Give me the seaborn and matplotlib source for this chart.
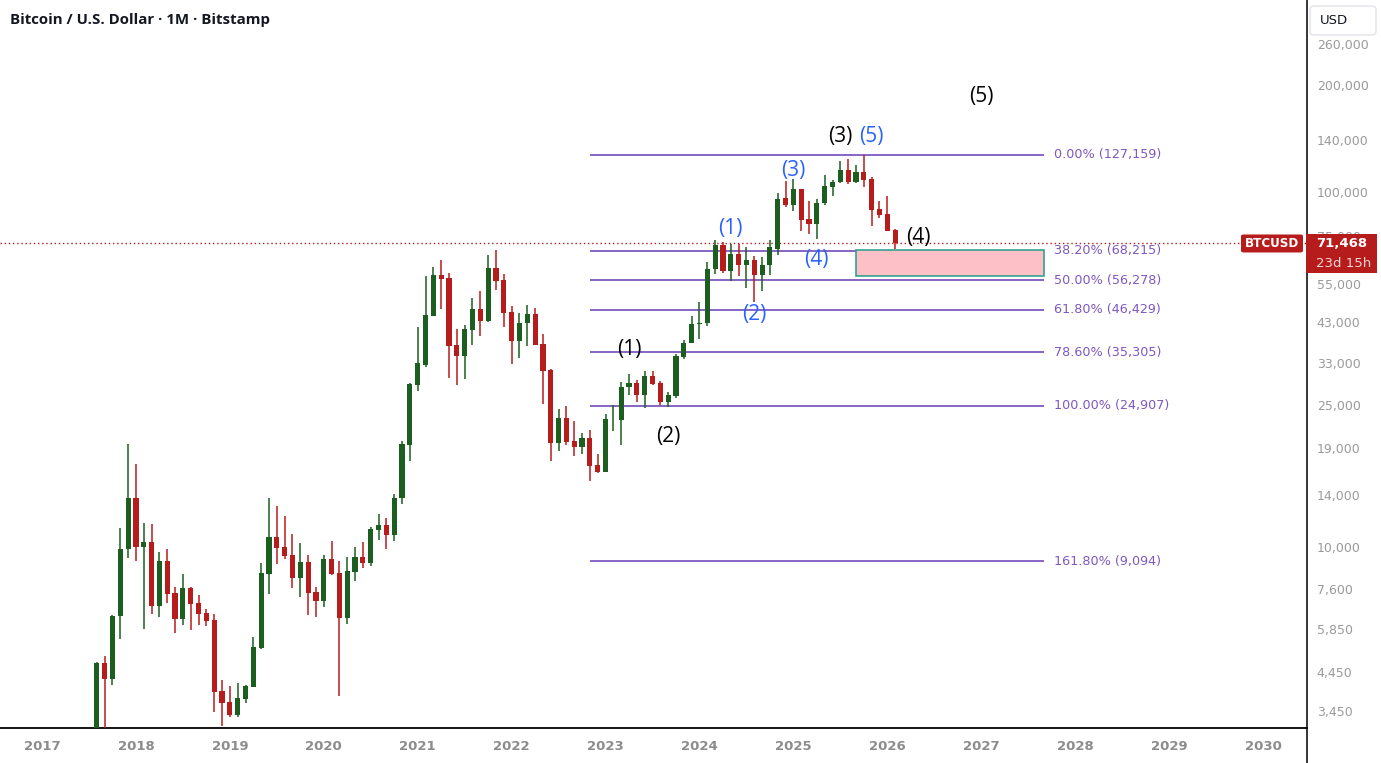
# Bitcoin / USD monthly candles (Bitstamp) with Elliott wave counts and a Fibonacci retracement

import numpy as np
import pandas as pd
import matplotlib
matplotlib.use("Agg")
import matplotlib.pyplot as plt
from matplotlib.patches import Rectangle, FancyBboxPatch
from matplotlib.lines import Line2D
from matplotlib.ticker import FixedLocator, FuncFormatter
import seaborn as sns

# --- data ---------------------------------------------------------------------

months = pd.period_range("2017-08", "2026-02", freq="M")

opens = [2870, 4690, 4250, 6380, 9850, 13720, 10000, 10300, 6820, 9110, 7400, 6270,
         7650, 6940, 6500, 6210, 3920, 3640, 3363, 3730, 4030, 5190, 8380, 10650,
         9980, 9470, 8180, 9050, 7450, 7040, 9230, 8430, 6310, 8500, 9350, 9020,
         11170, 11510, 10780, 13720, 19380, 28610, 32580, 44760, 58200, 57100, 36900, 34550,
         40870, 46720, 43340, 60960, 56440, 45950, 38070, 42660, 45300, 37200, 31460, 19580,
         23050, 19840, 19070, 20220, 16990, 16230, 22870, 22790, 28100, 28930, 26800, 30320,
         28930, 25600, 26560, 34330, 37480, 42280, 42580, 60500, 70790, 59880, 66900, 62000,
         64210, 58140, 62230, 68900, 96000, 91500, 101600, 83700, 81000, 92900, 103400, 106400,
         115400, 106600, 113500, 108800, 89200, 86300, 78000]
highs = [4740, 4920, 6400, 11290, 19460, 17100, 11660, 11590, 9660, 9850, 7710, 8380,
         7710, 7310, 6680, 6460, 4220, 4060, 4130, 4090, 5570, 8990, 13720, 13020,
         12200, 10860, 10240, 9470, 7710, 9470, 10370, 9110, 9350, 9980, 10320, 11350,
         12360, 12070, 14100, 19800, 29000, 41580, 57880, 61300, 64060, 59000, 41060, 42100,
         50200, 52500, 66390, 68540, 58650, 47700, 45600, 48030, 47080, 39740, 31700, 24440,
         24920, 22600, 20900, 21320, 18220, 23630, 25000, 29100, 30700, 29480, 31250, 31250,
         29300, 27240, 34930, 38200, 44700, 48970, 63500, 73180, 72200, 71000, 71000, 69880,
         65720, 65500, 73100, 99300, 107100, 108300, 102000, 94000, 95100, 111500, 107900, 122300,
         123600, 118800, 126800, 110300, 94000, 97100, 78600]
lows = [2700, 2970, 4080, 5500, 9310, 9130, 5860, 6480, 6350, 6955, 5730, 6030,
        5830, 6030, 5990, 3430, 3120, 3310, 3310, 3635, 4020, 5150, 7360, 8940,
        9250, 7670, 7230, 6430, 6350, 6780, 8340, 3800, 6070, 8020, 8730, 8840,
        10460, 9880, 10380, 13200, 17450, 27520, 32160, 44760, 46800, 29920, 28450, 29710,
        37070, 39310, 43010, 52800, 41580, 32700, 33970, 36760, 37000, 25230, 17420, 18600,
        19360, 17980, 18200, 15320, 16150, 16230, 21220, 19370, 26800, 25600, 24640, 28510,
        25080, 24800, 26230, 33830, 37500, 38500, 41900, 58580, 59000, 56170, 58000, 53480,
        49000, 52500, 58100, 66200, 90600, 88300, 77600, 76200, 73600, 92000, 97500, 105500,
        105200, 106000, 102800, 80000, 84100, 77600, 68800]
closes = [4690, 4250, 6380, 9850, 13720, 10000, 10300, 6820, 9110, 7370, 6270, 7650,
          6910, 6480, 6190, 3900, 3635, 3363, 3750, 4050, 5220, 8430, 10650, 9940,
          9430, 8180, 9050, 7420, 7040, 9230, 8390, 6310, 8540, 9350, 9020, 11220,
          11510, 10780, 13720, 19460, 28700, 32860, 44950, 58200, 56880, 36760, 34550, 41060,
          46720, 43340, 60960, 56150, 45650, 38070, 42660, 45300, 37000, 31260, 19580, 23050,
          19780, 19070, 20220, 16880, 16230, 22870, 22950, 28170, 28930, 26800, 30320, 28780,
          25600, 26720, 34480, 37480, 42280, 42580, 60500, 70790, 59880, 66900, 62000, 64210,
          58140, 62230, 69880, 95300, 91500, 101600, 83250, 81000, 93200, 103800, 106500, 115400,
          106600, 113500, 107900, 88700, 86000, 77600, 71468]

# Fibonacci retracement drawn from the Nov 2022 low to the Oct 2025 high
fib_labels = ["0.00%", "38.20%", "50.00%", "61.80%", "78.60%", "100.00%", "161.80%"]
fib_prices = [127159, 68215, 56278, 46429, 35305, 24907, 9094]
fib_start, fib_end = pd.Period("2022-11", "M"), pd.Period("2027-09", "M")

# wave (4) target zone
zone_start, zone_end = pd.Period("2025-09", "M"), pd.Period("2027-09", "M")
zone_top, zone_bottom = 68500, 57900

last_price = 71468
countdown = "23d 15h"

price_ticks = [3450, 4450, 5850, 7600, 10000, 14000, 19000, 25000, 33000,
               43000, 55000, 75000, 100000, 140000, 200000, 260000]
year_ticks = list(range(2017, 2031))

# Elliott wave labels (text, month, price)
wave_primary = [("(1)", "2023-04", 36000), ("(2)", "2023-09", 20400),
                ("(3)", "2025-07", 143500), ("(4)", "2026-05", 74100),
                ("(5)", "2027-01", 186000)]
wave_minor = [("(1)", "2024-05", 79000), ("(2)", "2024-08", 45200),
              ("(3)", "2025-01", 115100), ("(4)", "2025-04", 64600),
              ("(5)", "2025-11", 143500)]


def mx(p):
    """month index since Jan 2017"""
    p = pd.Period(p, "M")
    return (p.year - 2017) * 12 + p.month - 1


# --- figure -------------------------------------------------------------------

W, H = 1381, 763
sns.set_theme(style="white")
plt.rcParams["font.family"] = ["DejaVu Sans"]

UP, DOWN = "#1b5e20", "#b71c1c"
FIB = "#673ab7"
FIB_TXT = "#7e57c2"

fig = plt.figure(figsize=(W / 100, H / 100), dpi=100)
ax = fig.add_axes([0, 35 / H, 1307 / W, 728 / H])

df = pd.DataFrame({"x": [mx(m) for m in months], "open": opens, "high": highs,
                   "low": lows, "close": closes})
df["color"] = np.where(df["close"] >= df["open"], UP, DOWN)
df["bottom"] = df[["open", "close"]].min(axis=1)
df["top"] = df[["open", "close"]].max(axis=1)

ax.vlines(df["x"], df["low"], df["high"], colors=df["color"], lw=1.1, zorder=3)
ax.bar(df["x"], df["top"] - df["bottom"], bottom=df["bottom"], width=0.66,
       color=df["color"], linewidth=0, zorder=4)

# current price line
ax.axhline(last_price, color=DOWN, lw=1, ls=(0, (1, 2)), zorder=2)

# fibonacci levels
for lab, price in zip(fib_labels, fib_prices):
    ax.hlines(price, mx(fib_start), mx(fib_end), color=FIB, lw=1.1, zorder=2)
    ax.text(mx(fib_end) + 1.3, price, f"{lab} ({price:,})", color=FIB_TXT,
            fontsize=9.2, ha="left", va="center")

# target zone
ax.add_patch(Rectangle((mx(zone_start), zone_bottom), mx(zone_end) - mx(zone_start),
                       zone_top - zone_bottom, facecolor="#fcc0c6", edgecolor="#1f9e89",
                       lw=1.1, zorder=2.5))

# wave labels
for txt, m, price in wave_primary:
    ax.text(mx(m), price, txt, fontsize=15, color="black", ha="center", va="center",
            family="Open Sans", zorder=6)
for txt, m, price in wave_minor:
    ax.text(mx(m), price, txt, fontsize=15, color="#2962ff", ha="center", va="center",
            family="Open Sans", zorder=6)

# axes
ax.set_yscale("log")
ax.set_ylim(3085, 346700)
ax.set_xlim(-42 / 7.827, (1307 - 42) / 7.827)
ax.yaxis.tick_right()
ax.yaxis.set_major_locator(FixedLocator(price_ticks))
ax.yaxis.set_minor_locator(FixedLocator([]))
ax.yaxis.set_major_formatter(FuncFormatter(lambda v, _: f"{v:,.0f}"))
ax.set_xticks([(y - 2017) * 12 for y in year_ticks])
ax.set_xticklabels([str(y) for y in year_ticks])
ax.tick_params(axis="y", length=0, pad=7, labelsize=9, labelcolor="#9a9a9a")
ax.tick_params(axis="x", length=0, pad=9, labelsize=9.5, labelcolor="#8c8c8c")
for lbl in ax.get_xticklabels():
    lbl.set_fontweight("bold")
for s in ["top", "left"]:
    ax.spines[s].set_visible(False)
ax.spines["bottom"].set_color("black")
ax.spines["bottom"].set_linewidth(1.3)
ax.spines["right"].set_visible(False)
ax.grid(False)

# separator between plot and price scale
fig.add_artist(Line2D([1307 / W, 1307 / W], [0, 1], transform=fig.transFigure,
                      color="black", lw=1.1))

# title
fig.text(10 / W, 1 - 20 / H, "Bitcoin / U.S. Dollar · 1M · Bitstamp", fontsize=10.8,
         fontweight="bold", family="Open Sans", color="#131722", ha="left", va="center")

# currency box
fig.add_artist(FancyBboxPatch((1310 / W, 1 - 35 / H), 66 / W, 29 / H,
                              boxstyle="round,pad=0,rounding_size=0.004",
                              transform=fig.transFigure, facecolor="white",
                              edgecolor="#e0e3eb", lw=1, zorder=5))
fig.text(1320 / W, 1 - 20 / H, "USD", fontsize=9.5, color="#131722", ha="left",
         va="center", zorder=6)

# last price labels on the scale
py = ax.transData.transform((0, last_price))[1]  # pixels from bottom
fig.add_artist(FancyBboxPatch((1241 / W, (py - 9) / H), 62 / W, 18 / H,
                              boxstyle="round,pad=0,rounding_size=0.002",
                              transform=fig.transFigure, facecolor=DOWN,
                              edgecolor="none", zorder=5))
fig.text(1272 / W, py / H, "BTCUSD", fontsize=8.6, fontweight="bold", color="white",
         ha="center", va="center", zorder=6)
fig.add_artist(Rectangle((1306 / W, (py - 30) / H), 71 / W, 39 / H,
                         transform=fig.transFigure, facecolor=DOWN,
                         edgecolor="none", zorder=5))
fig.text(1316 / W, (py - 0.5) / H, f"{last_price:,}", fontsize=9.5, fontweight="bold",
         color="white", ha="left", va="center", zorder=6)
fig.text(1316 / W, (py - 20) / H, countdown, fontsize=9.5, color="#f6d5d5",
         ha="left", va="center", zorder=6)

fig.savefig("out.png", dpi=100, facecolor="white")
